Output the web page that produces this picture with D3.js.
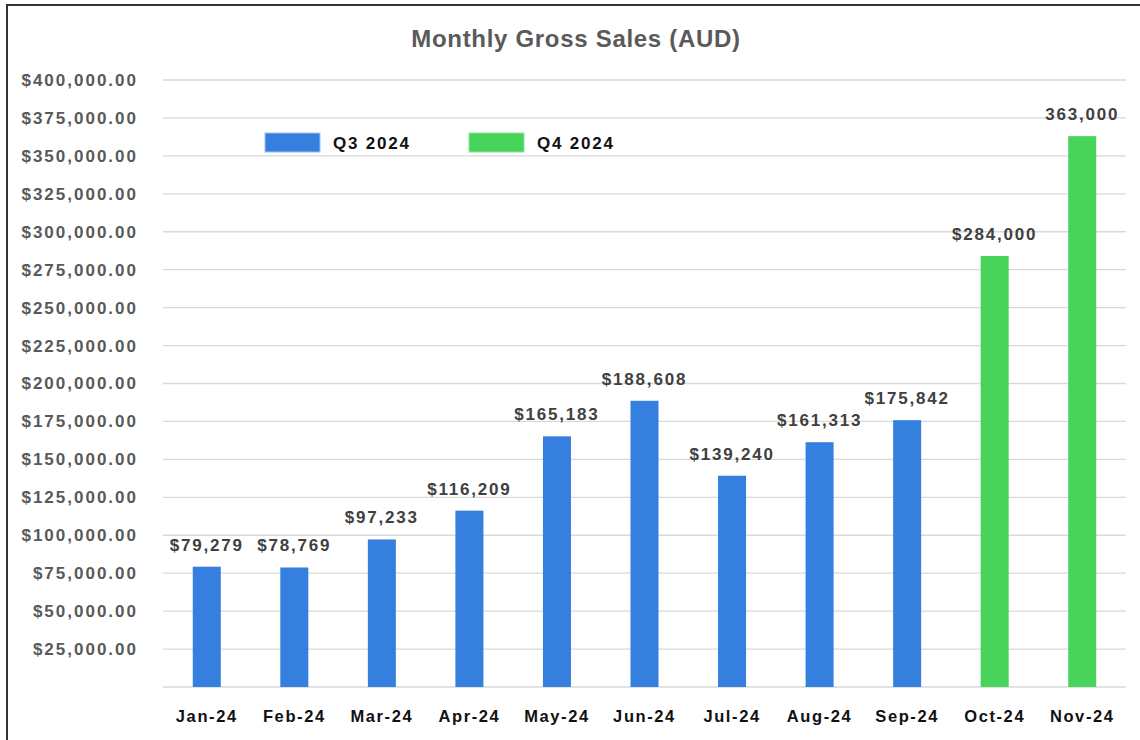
<html>
<head>
<style>
  body { margin: 0; background: #fff; }
  text { font-family: "Liberation Sans", Arial, sans-serif; }
</style>
<script src="https://d3js.org/d3.v7.min.js" charset="utf-8"></script>
</head>
<body>
<div id="viz"></div>
<script>
// chart data
let months = ["Jan-24","Feb-24","Mar-24","Apr-24","May-24","Jun-24","Jul-24","Aug-24","Sep-24","Oct-24","Nov-24"];
let sales  = [79279, 78769, 97233, 116209, 165183, 188608, 139240, 161313, 175842, 284000, 363000];
let series = ["Q3 2024","Q3 2024","Q3 2024","Q3 2024","Q3 2024","Q3 2024","Q3 2024","Q3 2024","Q3 2024","Q4 2024","Q4 2024"];
let labels = ["$79,279","$78,769","$97,233","$116,209","$165,183","$188,608","$139,240","$161,313","$175,842","$284,000","363,000"];
let yTicks = [25000,50000,75000,100000,125000,150000,175000,200000,225000,250000,275000,300000,325000,350000,375000,400000];
let legendNames = ["Q3 2024","Q4 2024"];

let width = 1140, height = 740;
let margin = { top: 80, right: 14, bottom: 53, left: 163 };
let plotW = width - margin.left - margin.right,
    plotH = height - margin.top - margin.bottom;

let color = d3.scaleOrdinal().domain(legendNames).range(["#3580df", "#48d45a"]);

let svg = d3.select("#viz").append("svg").attr("width", width).attr("height", height);

// frame (only top and left edges visible)
svg.append("rect").attr("x", 7).attr("y", 5).attr("width", 1300).attr("height", 900)
   .attr("fill", "none").attr("stroke", "#333").attr("stroke-width", 2);

svg.append("text").attr("x", 576).attr("y", 47).attr("text-anchor", "middle")
   .style("font-size", "24px").style("font-weight", "bold").style("fill", "#5a5a5a")
   .style("letter-spacing", "0.7px")
   .text("Monthly Gross Sales (AUD)");

let g = svg.append("g").attr("transform", `translate(${margin.left},${margin.top})`);

let x = d3.scaleBand().domain(months).range([0, plotW]).paddingInner(0.68).paddingOuter(0.34);
let y = d3.scaleLinear().domain([0, 400000]).range([plotH, 0]);

// gridlines
g.append("g").selectAll("line").data([0].concat(yTicks)).join("line")
  .attr("x1", 0).attr("x2", plotW)
  .attr("y1", d => y(d)).attr("y2", d => y(d))
  .attr("stroke", "#d9d9d9").attr("stroke-width", 1.3);

// y axis labels
let fmt = d3.format("$,.2f");
let yAxis = g.append("g").attr("transform", "translate(-22,0)")
  .call(d3.axisLeft(y).tickValues(yTicks).tickFormat(fmt).tickSize(0));
yAxis.select(".domain").remove();
yAxis.selectAll("text").style("font-size", "17px").style("font-weight", "bold")
  .style("letter-spacing", "2px")
  .style("fill", "#595959").style("font-family", "'Liberation Sans', Arial, sans-serif");

// x axis labels
let xAxis = g.append("g").attr("transform", `translate(0,${plotH + 20})`)
  .call(d3.axisBottom(x).tickSize(0));
xAxis.select(".domain").remove();
xAxis.selectAll("text").style("font-size", "16.5px").style("font-weight", "bold")
  .style("letter-spacing", "1.6px")
  .style("fill", "#111").style("font-family", "'Liberation Sans', Arial, sans-serif");

let rows = months.map((m, i) => ({ month: m, value: sales[i], series: series[i], label: labels[i] }));

g.selectAll(".bar").data(rows).join("rect")
  .attr("class", "bar")
  .attr("x", d => x(d.month))
  .attr("y", d => y(d.value))
  .attr("width", x.bandwidth())
  .attr("height", d => plotH - y(d.value))
  .attr("fill", d => color(d.series));

g.selectAll(".lbl").data(rows).join("text")
  .attr("class", "lbl")
  .attr("x", d => x(d.month) + x.bandwidth() / 2)
  .attr("y", d => y(d.value) - 16)
  .attr("text-anchor", "middle")
  .style("font-size", "17px").style("font-weight", "bold").style("fill", "#404040")
  .style("letter-spacing", "1.8px")
  .text(d => d.label);

// legend
let legendX = [265, 469];
let legend = svg.append("g").selectAll("g").data(legendNames).join("g")
  .attr("transform", (d, i) => `translate(${legendX[i]},133)`);
legend.append("rect").attr("width", 55).attr("height", 19).attr("fill", d => color(d))
  .attr("stroke", (d, i) => i ? "#8ee596" : "#9cc2f0").attr("stroke-width", 1);
legend.append("text").attr("x", 68).attr("y", 16)
  .style("font-size", "17px").style("font-weight", "bold").style("fill", "#111")
  .style("letter-spacing", "1.8px")
  .text(d => d);
</script>
</body>
</html>
